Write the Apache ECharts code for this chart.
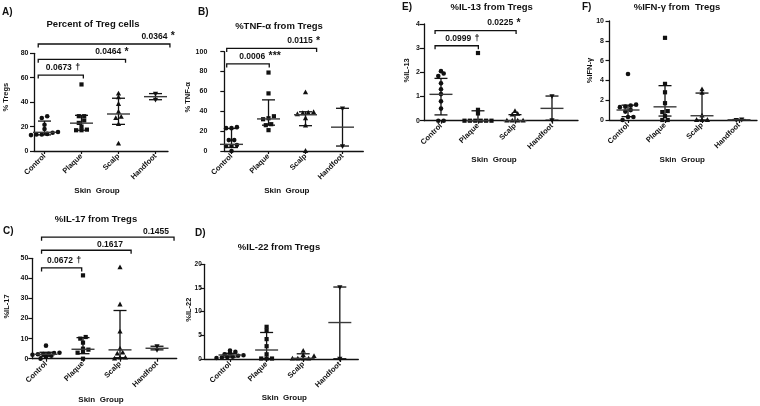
<!DOCTYPE html>
<html><head><meta charset="utf-8">
<script src="https://cdn.jsdelivr.net/npm/echarts@6/dist/echarts.min.js"></script>
<style>html,body{margin:0;padding:0;background:#fff}#c{width:760px;height:406px}</style>
</head><body><div id="c"></div>
<script>
const categories = ['Control', 'Plaque', 'Scalp', 'Handfoot'];

// A) Percent of Treg cells
const tregControl = [28.5, 27, 21.5, 18, 15.5, 15, 14, 13.5, 13.5, 13];
const tregPlaque = [54.5, 28.5, 28.5, 25, 23, 20, 17.5, 17, 17];
const tregScalp = [47, 44, 38.5, 32, 28, 27, 22, 6];
const tregHandfoot = [47, 42];
const tregMedian = [15.3, 22.8, 30.3, 44.5];
const tregQ1 = [13.2, 17, 21.8, 42];
const tregQ3 = [24.5, 29.2, 43.2, 47];
const tregTicks = [0, 20, 40, 60, 80];
// [from, to, height, label centre, p value, mark]
const tregBrackets = [[0.83, 2.05, 62.2, 1.5, '0.0673', '†'], [0.83, 3.19, 75.1, 2.82, '0.0464', '*'], [0.83, 4.39, 87.6, 4.07, '0.0364', '*']];

// B) %TNF-α from Tregs
const tnfControl = [24, 23, 23, 11, 11, 6, 5, 5, 0];
const tnfPlaque = [79, 58, 35, 33, 32, 27, 26, 21];
const tnfScalp = [59, 39, 38.5, 38, 37, 33, 25.5, 0];
const tnfHandfoot = [43, 5];
const tnfMedian = [6.7, 32.3, 36.5, 24];
const tnfQ1 = [3.5, 26, 25.5, 5];
const tnfQ3 = [22.7, 51.5, 39.5, 43];
const tnfTicks = [0, 20, 40, 60, 80, 100];
const tnfBrackets = [[0.87, 2.02, 87.7, 1.77, '0.0006', '***'], [0.87, 3.30, 103.3, 2.95, '0.0115', '*']];

// E) %IL-13 from Tregs
const il13Control = [2.05, 1.95, 1.85, 1.55, 1.3, 1.1, 0.8, 0.5, 0, 0];
const il13Plaque = [2.8, 0.45, 0.3, 0, 0, 0, 0, 0, 0];
const il13Scalp = [0.4, 0.28, 0.25, 0, 0, 0, 0];
const il13Handfoot = [1.02, 0.02];
const il13Median = [1.09, 0, 0, 0.51];
const il13Q1 = [0.24, 0, 0, 0.02];
const il13Q3 = [1.75, 0.41, 0.25, 1.02];
const il13Ticks = [0, 1, 2, 3, 4];
const il13Brackets = [[0.84, 2.01, 3.1, 1.58, '0.0999', '†'], [0.84, 3.03, 3.73, 2.70, '0.0225', '*']];

// F) %IFN-γ from Tregs
const ifnControl = [4.65, 1.55, 1.45, 1.35, 1.3, 1.0, 0.85, 0.3, 0.3, 0];
const ifnPlaque = [8.3, 3.65, 2.8, 1.7, 0.9, 0.8, 0.4, 0, 0];
const ifnScalp = [3.1, 2.75, 0.45, 0, 0, 0];
const ifnHandfoot = [0, 0.05];
const ifnMedian = [1.01, 1.33, 0.43, 0.02];
const ifnQ1 = [0.34, 0.4, 0, 0];
const ifnQ3 = [1.5, 3.47, 2.72, 0.05];
const ifnTicks = [0, 2, 4, 6, 8, 10];
const ifnBrackets = [];

// C) %IL-17 from Tregs
const il17Control = [6.5, 3, 2.8, 2.5, 2.3, 2.2, 2, 1.5, 1, 0];
const il17Plaque = [41.5, 10.8, 10, 8, 5, 4.5, 3.5, 3, 0];
const il17Scalp = [45.5, 27, 13.5, 5, 3, 2.5, 0.5, 0.5, 0];
const il17Handfoot = [6.2, 4.4];
const il17Median = [2.2, 4.7, 4.4, 5.2];
const il17Q1 = [1.2, 2.5, 0.5, 4.4];
const il17Q3 = [3.2, 10.5, 24, 6.2];
const il17Ticks = [0, 10, 20, 30, 40, 50];
const il17Brackets = [[0.88, 1.965, 45.2, 1.49, '0.0672', '†'], [0.88, 3.30, 54, 2.73, '0.1617', ''], [0.88, 4.46, 60.5, 3.97, '0.1455', '']];

// D) %IL-22 from Tregs
const il22Control = [1.8, 1.5, 1.2, 1.0, 0.8, 0.7, 0.5, 0.4, 0.3, 0.2];
const il22Plaque = [6.8, 6.0, 4.2, 2.7, 1.0, 0.1, 0.1, 0.1];
const il22Scalp = [1.7, 0.8, 0.6, 0.1, 0.1, 0.1, 0.1];
const il22Handfoot = [15.2, 0.05];
const il22Median = [0.85, 1.9, 0.15, 7.7];
const il22Q1 = [0.4, 0.1, 0, 0.05];
const il22Q3 = [1.2, 5.6, 1.1, 15.2];
const il22Ticks = [0, 5, 10, 15, 20];
const il22Brackets = [];

const FONT = '"Liberation Sans", Arial, Helvetica, sans-serif';
const INK = '#111';

const panels = [
  {title: 'Percent of Treg cells', letter: 'A)', yName: '% Tregs',
   groups: [tregControl, tregPlaque, tregScalp, tregHandfoot], med: tregMedian, q1: tregQ1, q3: tregQ3,
   ticks: tregTicks, brackets: tregBrackets,
   grid: [34, 53.3, 134, 97.7], xr: [0.716, 4.338], tpos: [93, 24], lpos: [2, 12.7],
   yGap: 24, yShift: 5, yMargin: 5.5, yFont: 7, xGap: 36, xShift: -4},
  {title: '%TNF-α from Tregs', letter: 'B)', yName: '% TNF-α',
   groups: [tnfControl, tnfPlaque, tnfScalp, tnfHandfoot], med: tnfMedian, q1: tnfQ1, q3: tnfQ3,
   ticks: tnfTicks, brackets: tnfBrackets,
   grid: [224.3, 51.7, 139, 99.3], xr: [0.805, 4.562], tpos: [279, 26], lpos: [198, 12.7],
   yGap: 32, yShift: 4, yMargin: 17, yFont: 7, xGap: 36, xShift: -7},
  {title: '%IL-13 from Tregs', letter: 'E)', yName: '%IL-13',
   groups: [il13Control, il13Plaque, il13Scalp, il13Handfoot], med: il13Median, q1: il13Q1, q3: il13Q3,
   ticks: il13Ticks, brackets: il13Brackets,
   grid: [424, 24, 154, 96.7], xr: [0.541, 4.703], tpos: [491.7, 7.5], lpos: [402, 7.5],
   yGap: 13, yShift: 2, yMargin: 4, yFont: 7, xGap: 35, xShift: -7},
  {title: '%IFN-γ from  Tregs', letter: 'F)', yName: '%IFN-γ',
   groups: [ifnControl, ifnPlaque, ifnScalp, ifnHandfoot], med: ifnMedian, q1: ifnQ1, q3: ifnQ3,
   ticks: ifnTicks, brackets: ifnBrackets,
   grid: [609.5, 21, 147.5, 99], xr: [0.5, 4.486], tpos: [677, 7.5], lpos: [582, 7.5],
   yGap: 15.5, yShift: 0, yMargin: 5.5, yFont: 7, xGap: 36, xShift: -1},
  {title: '%IL-17 from Tregs', letter: 'C)', yName: '%IL-17',
   groups: [il17Control, il17Plaque, il17Scalp, il17Handfoot], med: il17Median, q1: il17Q1, q3: il17Q3,
   ticks: il17Ticks, brackets: il17Brackets,
   grid: [32.3, 258.3, 144.4, 100.4], xr: [0.63, 4.532], tpos: [96, 219], lpos: [3, 231],
   yGap: 21.5, yShift: 2, yMargin: 4, yFont: 7, xGap: 37, xShift: -3.5},
  {title: '%IL-22 from Tregs', letter: 'D)', yName: '%IL-22',
   groups: [il22Control, il22Plaque, il22Scalp, il22Handfoot], med: il22Median, q1: il22Q1, q3: il22Q3,
   ticks: il22Ticks, brackets: il22Brackets,
   grid: [204.3, 264.3, 154, 94.7], xr: [0.298, 4.505], tpos: [279, 247.7], lpos: [195, 233],
   yGap: 11.5, yShift: 2, yMargin: 2.5, yFont: 6.5, xGap: 34.7, xShift: 3}
];

// spread points that share a row horizontally (Prism-style column scatter)
function swarm(ys, d) {
  const idx = ys.map((y, i) => i).sort((a, b) => ys[b] - ys[a]);
  const off = new Array(ys.length).fill(0);
  let row = [];
  const flush = () => { row.forEach((k, j) => { off[k] = (j - (row.length - 1) / 2) * d; }); row = []; };
  for (const k of idx) {
    if (row.length && Math.abs(ys[k] - ys[row[0]]) > d * 0.6) flush();
    row.push(k);
  }
  flush();
  return off;
}

function marker(kind, x, y) {
  const st = {fill: INK, stroke: null};
  if (kind === 0) return {type: 'circle', shape: {cx: x, cy: y, r: 2.3}, style: st};
  if (kind === 1) return {type: 'rect', shape: {x: x - 2.1, y: y - 2.1, width: 4.2, height: 4.2}, style: st};
  if (kind === 2) return {type: 'polygon', shape: {points: [[x, y - 2.9], [x + 2.6, y + 1.9], [x - 2.6, y + 1.9]]}, style: st};
  return {type: 'polygon', shape: {points: [[x, y + 2.9], [x + 2.6, y - 1.9], [x - 2.6, y - 1.9]]}, style: st};
}

function groupRenderer(p) {
  return function (params, api) {
    const i = params.dataIndex;
    const x = i + 1;
    const cx = api.coord([x, 0])[0];
    const ys = p.groups[i].map(v => api.coord([x, v])[1]);
    const offs = swarm(ys, 5.4);
    const kids = ys.map((y, k) => marker(i, cx + offs[k], y));
    const yMed = api.coord([x, p.med[i]])[1];
    const y1 = api.coord([x, p.q1[i]])[1];
    const y3 = api.coord([x, p.q3[i]])[1];
    const ls = {stroke: INK, lineWidth: 1.3};
    kids.push({type: 'line', shape: {x1: cx, y1: y1, x2: cx, y2: y3}, style: ls});
    kids.push({type: 'line', shape: {x1: cx - 6.5, y1: y1, x2: cx + 6.5, y2: y1}, style: ls});
    kids.push({type: 'line', shape: {x1: cx - 6.5, y1: y3, x2: cx + 6.5, y2: y3}, style: ls});
    kids.push({type: 'line', shape: {x1: cx - 11.5, y1: yMed, x2: cx + 11.5, y2: yMed}, style: {stroke: '#3a3a3a', lineWidth: 1.4}});
    return {type: 'group', children: kids};
  };
}

function bracketRenderer(p) {
  return function (params, api) {
    const b = p.brackets[params.dataIndex];
    const a = api.coord([b[0], b[2]]);
    const c = api.coord([b[1], b[2]]);
    const t = api.coord([b[3], b[2]]);
    const txt = b[5] ? '{n|' + b[4] + '} {m|' + b[5] + '}' : '{n|' + b[4] + '}';
    return {type: 'group', children: [
      {type: 'polyline', shape: {points: [[a[0], a[1] + 3.5], [a[0], a[1]], [c[0], c[1]], [c[0], c[1] + 3.5]]},
       style: {stroke: INK, lineWidth: 1.3, fill: null}},
      {type: 'text', x: t[0], y: t[1] - 1.5,
       style: {text: txt, align: 'center', verticalAlign: 'bottom', fill: INK,
         rich: {n: {fontSize: 8.5, fontWeight: 'bold', fontFamily: FONT, fill: INK},
                m: {fontSize: b[5] === '*' || b[5] === '***' ? 10.5 : 9, fontWeight: 'bold', fontFamily: FONT, fill: INK}}}}
    ]};
  };
}

const titles = [];
panels.forEach(p => {
  titles.push({text: p.title, left: p.tpos[0], top: p.tpos[1], textAlign: 'center', textVerticalAlign: 'middle', padding: 0,
    textStyle: {fontSize: 9.5, fontWeight: 'bold', fontFamily: FONT, color: INK}});
  titles.push({text: p.letter, left: p.lpos[0], top: p.lpos[1], textAlign: 'left', textVerticalAlign: 'middle', padding: 0,
    textStyle: {fontSize: 10, fontWeight: 'bold', fontFamily: FONT, color: INK}});
});

const axisLine = {show: true, onZero: false, lineStyle: {color: INK, width: 1.3}};
const option = {
  animation: false,
  backgroundColor: '#fff',
  title: titles,
  grid: panels.map(p => ({left: p.grid[0], top: p.grid[1], width: p.grid[2], height: p.grid[3]})),
  xAxis: panels.map((p, i) => ({
    type: 'value', gridIndex: i, min: p.xr[0], max: p.xr[1],
    name: 'Skin  Group', nameLocation: 'middle', nameGap: p.xGap, nameMoveOverlap: false,
    nameTextStyle: {fontSize: 8, fontWeight: 'bold', fontFamily: FONT, color: INK,
      padding: p.xShift < 0 ? [0, -2 * p.xShift, 0, 0] : [0, 0, 0, 2 * p.xShift]},
    axisLine: axisLine,
    axisTick: {show: true, customValues: [1, 2, 3, 4], length: 3, lineStyle: {color: INK, width: 1.2}},
    axisLabel: {customValues: [1, 2, 3, 4], rotate: 45, margin: 4, fontSize: 7.5, fontWeight: 'bold', fontFamily: FONT, color: INK,
      formatter: v => categories[Math.round(v) - 1] || ''},
    splitLine: {show: false}
  })),
  yAxis: panels.map((p, i) => ({
    type: 'value', gridIndex: i, min: p.ticks[0], max: p.ticks[p.ticks.length - 1], interval: p.ticks[1] - p.ticks[0],
    name: p.yName, nameLocation: 'middle', nameRotate: 90, nameGap: p.yGap, nameMoveOverlap: false,
    nameTextStyle: {fontSize: 7.5, fontWeight: 'bold', fontFamily: FONT, color: INK, padding: [0, 0, 0, 2 * p.yShift]},
    axisLine: axisLine,
    axisTick: {show: true, length: 4, lineStyle: {color: INK, width: 1.2}},
    axisLabel: {margin: p.yMargin, fontSize: p.yFont, fontWeight: 'bold', fontFamily: FONT, color: INK},
    splitLine: {show: false}
  })),
  series: []
};

panels.forEach((p, i) => {
  option.series.push({
    type: 'custom', name: p.title, xAxisIndex: i, yAxisIndex: i, clip: false,
    data: categories.map((c, k) => [k + 1, p.med[k]]),
    renderItem: groupRenderer(p)
  });
  if (p.brackets.length) {
    option.series.push({
      type: 'custom', name: p.title + ' tests', xAxisIndex: i, yAxisIndex: i, clip: false,
      data: p.brackets.map(b => [b[0], b[2]]),
      renderItem: bracketRenderer(p)
    });
  }
});

const chart = echarts.init(document.getElementById('c'), null, {width: 760, height: 406});
chart.setOption(option);
</script>
</body></html>
